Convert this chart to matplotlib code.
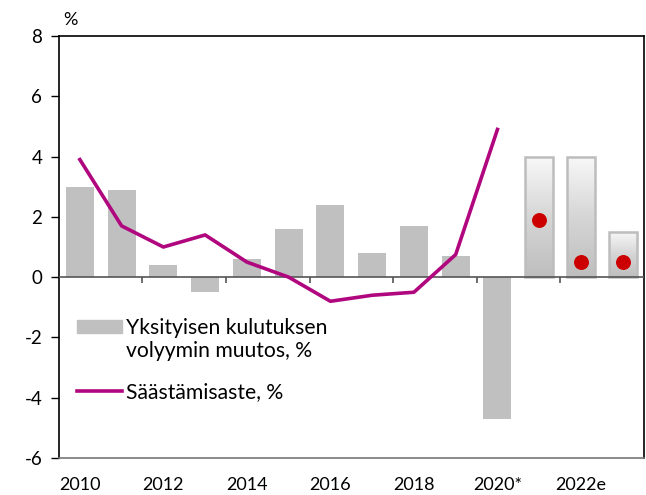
import numpy as np
import matplotlib.pyplot as plt
from matplotlib.colors import LinearSegmentedColormap
from matplotlib.patches import Patch
from matplotlib.lines import Line2D

plt.rcParams['font.family'] = ['Lato', 'DejaVu Sans']
plt.rcParams['axes.unicode_minus'] = False

years = ['2010', '2011', '2012', '2013', '2014', '2015', '2016', '2017',
         '2018', '2019', '2020*', '2021e', '2022e', '2023e']
kulutus = [3.0, 2.9, 0.4, -0.5, 0.6, 1.6, 2.4, 0.8, 1.7, 0.7, -4.7, 4.0, 4.0, 1.5]
saastamisaste = [3.9, 1.7, 1.0, 1.4, 0.5, 0.0, -0.8, -0.6, -0.5, 0.75, 4.9]
ennuste = [1.9, 0.5, 0.5]
n_actual = 11

bar_gray = '#c0c0c0'
line_col = '#b0077f'
dot_col = '#cc0000'

fig = plt.figure(figsize=(6.46, 4.95), dpi=100)
ax = fig.add_axes([0.0913, 0.0747, 0.905, 0.8526])

x = np.arange(len(years))
w = 0.67

# toteutuneet
ax.bar(x[:n_actual], kulutus[:n_actual], width=w, color=bar_gray, zorder=2)

# ennustevuodet gradientilla
grad = np.linspace(0, 1, 256).reshape(-1, 1)
cmap = LinearSegmentedColormap.from_list('g', ['#f8f8f8', '#d6d6d6', '#bebebe'])
for xi, v in zip(x[n_actual:], kulutus[n_actual:]):
    ax.imshow(grad, extent=(xi - w / 2, xi + w / 2, 0, v), origin='upper',
              cmap=cmap, aspect='auto', zorder=2)
    ax.bar(xi, v, width=w, facecolor='none', edgecolor='#bdbdbd', linewidth=1.8, zorder=3)

ax.plot(x[:n_actual], saastamisaste, color=line_col, linewidth=2.6, zorder=4)
ax.scatter(x[n_actual:], ennuste, s=95, color=dot_col, zorder=5)

ax.axhline(0, color='#555555', linewidth=1.2, zorder=3)
ax.vlines(np.arange(1.5, 12, 2), -0.18, 0, color='#555555', linewidth=1.2, zorder=3)

ax.set_xlim(-0.5, 13.5)
ax.set_ylim(-6, 8)
ax.set_yticks(np.arange(-6, 9, 2))
ax.set_xticks(x[::2])
ax.set_xticklabels(years[::2])
ax.tick_params(axis='x', length=0, labelsize=13, pad=14)
ax.tick_params(axis='y', length=6, width=1, labelsize=13.5, pad=6)
for s in ['left', 'top', 'right']:
    ax.spines[s].set_linewidth(1.2)
ax.spines['bottom'].set_color('#777777')
ax.spines['bottom'].set_linewidth(1.2)

ax.text(0.008, 1.02, '%', transform=ax.transAxes, fontsize=13, ha='left', va='bottom')

# selite: palkki ensimmäisellä rivillä
h1 = [Patch(color=bar_gray), Patch(color='none')]
l1 = ['Yksityisen kulutuksen', 'volyymin muutos, %']
leg1 = ax.legend(h1, l1, loc='upper left', bbox_to_anchor=(0.03, 0.332), frameon=False,
                 fontsize=15.2, handlelength=2.15, handleheight=0.52, handletextpad=0.2,
                 labelspacing=0.15, borderaxespad=0, borderpad=0)
ax.add_artist(leg1)
h2 = [Line2D([], [], color=line_col, linewidth=2.6)]
ax.legend(h2, ['Säästämisaste, %'], loc='upper left', bbox_to_anchor=(0.03, 0.18),
          frameon=False, fontsize=15.2, handlelength=2.15, handletextpad=0.2,
          borderaxespad=0, borderpad=0)

fig.savefig('out.png', dpi=100)
